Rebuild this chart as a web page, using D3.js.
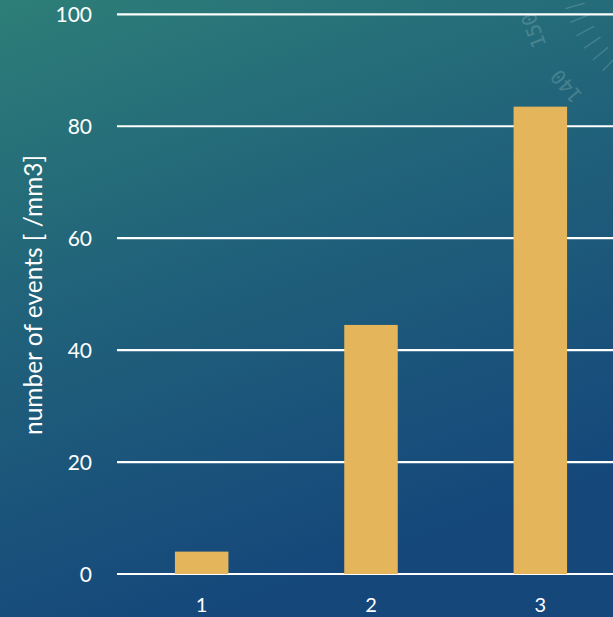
<!DOCTYPE html>
<html>
<head>
<meta charset="utf-8">
<script src="https://cdn.jsdelivr.net/npm/d3@7"></script>
<style>
  html, body { margin: 0; padding: 0; overflow: hidden; }
  svg { display: block; font-family: Lato, "Open Sans", sans-serif; }
</style>
</head>
<body>
<svg id="chart"></svg>
<script>
// chart data
const categories = ["1", "2", "3"];
const values = [4, 44.5, 83.5];
const yTicks = [0, 20, 40, 60, 80, 100];
const yTitle = "number of events [ /mm3]";

const width = 613, height = 617;
const svg = d3.select("#chart").attr("width", width).attr("height", height);

// background: teal top-left fading to deep blue at the bottom
const defs = svg.append("defs");
const bg = defs.append("linearGradient")
  .attr("id", "bg").attr("x1", "0").attr("y1", "0").attr("x2", "0.35").attr("y2", "1");
bg.append("stop").attr("offset", "0%").attr("stop-color", "#2d7e78");
bg.append("stop").attr("offset", "45%").attr("stop-color", "#21637a");
bg.append("stop").attr("offset", "100%").attr("stop-color", "#15477b");
svg.append("rect").attr("width", width).attr("height", height).attr("fill", "url(#bg)");

// faint dial decoration, top right (part of the slide background)
const cx = 700, cy = -30;
const dial = svg.append("g").attr("opacity", 0.2);
d3.range(122, 168, 6).forEach(a => {
  const r = a * Math.PI / 180;
  dial.append("line")
    .attr("x1", cx + Math.cos(r) * 120).attr("y1", cy + Math.sin(r) * 120)
    .attr("x2", cx + Math.cos(r) * 140).attr("y2", cy + Math.sin(r) * 140)
    .attr("stroke", "#d5e8ea").attr("stroke-width", 1.3);
});
[["150", 160], ["140", 139]].forEach(([t, a]) => {
  const r = a * Math.PI / 180;
  dial.append("text")
    .attr("transform", "translate(" + (cx + Math.cos(r) * 170) + "," + (cy + Math.sin(r) * 170) + ") rotate(" + (a + 90) + ")")
    .attr("text-anchor", "middle")
    .attr("fill", "#d5e8ea")
    .attr("font-family", "DejaVu Sans Mono, monospace")
    .attr("font-size", 20)
    .text(t);
});

const x = d3.scaleBand().domain(categories).range([117, 625]).paddingInner(0.684).paddingOuter(0.342);
const y = d3.scaleLinear().domain([0, 100]).range([574, 14.3]);

// gridlines
svg.append("g")
  .selectAll("line")
  .data(yTicks)
  .enter()
  .append("line")
  .attr("x1", 117).attr("x2", width + 10)
  .attr("y1", d => y(d)).attr("y2", d => y(d))
  .attr("stroke", "#ffffff").attr("stroke-width", 2.2);

// y tick labels
svg.append("g")
  .selectAll("text")
  .data(yTicks)
  .enter()
  .append("text")
  .attr("x", 92).attr("y", d => y(d))
  .attr("dy", "0.36em")
  .attr("text-anchor", "end")
  .attr("fill", "#ffffff")
  .attr("font-size", 21)
  .text(d => d);

// bars
svg.append("g")
  .selectAll("rect")
  .data(values)
  .enter()
  .append("rect")
  .attr("x", (d, i) => x(categories[i]))
  .attr("width", x.bandwidth())
  .attr("y", d => y(d))
  .attr("height", d => y(0) - y(d))
  .attr("fill", "#e5b55b");

// x labels
svg.append("g")
  .selectAll("text")
  .data(categories)
  .enter()
  .append("text")
  .attr("x", d => x(d) + x.bandwidth() / 2)
  .attr("y", 605)
  .attr("dy", "0.36em")
  .attr("text-anchor", "middle")
  .attr("fill", "#ffffff")
  .attr("font-size", 20)
  .text(d => d);

// y axis title
svg.append("text")
  .attr("transform", "translate(42,295) rotate(-90)")
  .attr("text-anchor", "middle")
  .attr("fill", "#ffffff")
  .attr("font-size", 24.5)
  .text(yTitle);
</script>
</body>
</html>
